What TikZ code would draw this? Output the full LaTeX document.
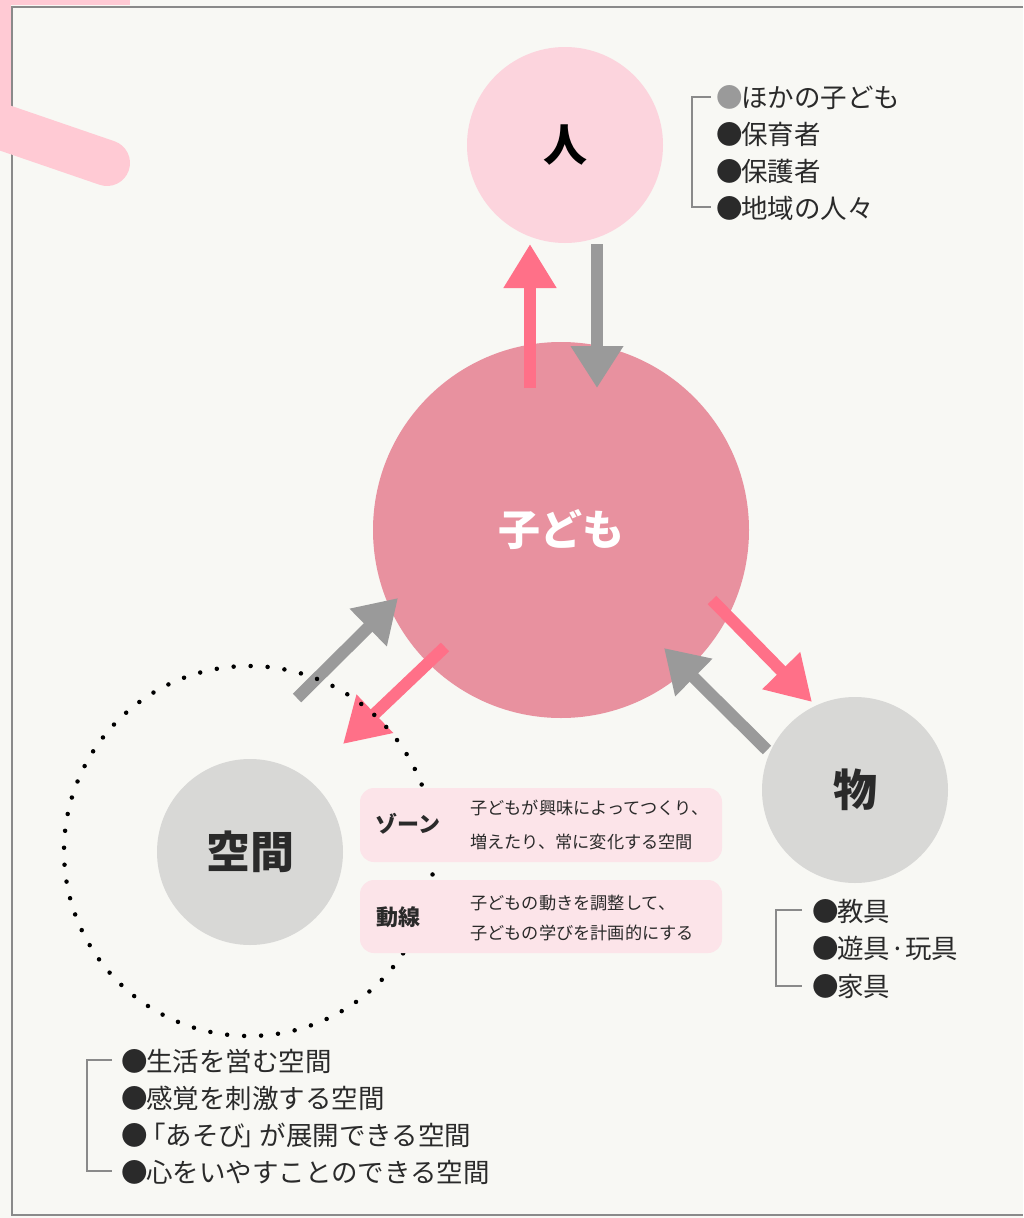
\documentclass[tikz,border=0pt]{standalone}
\usepackage{fontspec}
\newfontfamily\jp{Noto Sans CJK JP}
\usetikzlibrary{arrows.meta,calc}
\definecolor{bgc}{HTML}{F8F8F4}
\definecolor{deco}{HTML}{FFCAD4}
\definecolor{hitoc}{HTML}{FCD4DD}
\definecolor{childc}{HTML}{E8919F}
\definecolor{grayc}{HTML}{D8D8D6}
\definecolor{parrowc}{HTML}{FF7088}
\definecolor{garrowc}{HTML}{9A9A9A}
\definecolor{boxc}{HTML}{FCE4E9}
\definecolor{txt}{HTML}{2A2A2A}
\definecolor{framec}{HTML}{8A8A8A}
\newcommand{\blt}[1][txt]{\makebox[25pt][l]{\textcolor{#1}{●}}}
\begin{document}
\begin{tikzpicture}[x=1pt,y=-1pt,
  bigc/.style={circle,inner sep=0pt},
  bigtext/.style={font=\jp\bfseries\fontsize{44pt}{48pt}\selectfont},
  parrow/.style={draw=parrowc,line width=12pt,line cap=butt,-{Triangle[length=44pt,width=50pt]}},
  garrow/.style={draw=garrowc,line width=12pt,line cap=butt,-{Triangle[length=42pt,width=50pt]}},
  item/.style={anchor=west,inner sep=0pt,text=txt,font=\jp\fontsize{26.5pt}{30pt}\selectfont},
  bracket/.style={draw=framec,line width=1.6pt},
  zonebox/.style={fill=boxc,rounded corners=14pt,draw=none},
  zlabel/.style={text=txt,font=\jp\bfseries\fontsize{22pt}{26pt}\selectfont},
  ztext/.style={anchor=west,inner sep=0pt,text=txt,font=\jp\fontsize{17.2pt}{20pt}\selectfont}
]
\useasboundingbox (0,0) rectangle (1023,1218);
\fill[bgc] (0,0) rectangle (1023,1218);
% frame
\draw[framec,line width=1.5pt] (1023,7) -- (12,7) -- (12,1215) -- (1023,1215);
% pink decoration
\fill[deco] (0,0) rectangle (130,5);
\fill[deco] (0,0) rectangle (11,140);
\draw[deco,line width=46pt,line cap=round] (-30,116) -- (107,163);

% circles
\node[bigc,fill=hitoc,minimum size=196pt] (hito) at (565,145) {};
\node[bigc,fill=childc,minimum size=376pt] (child) at (561,530) {};
\node[bigc,fill=grayc,minimum size=186pt] (mono) at (855,790) {};
\node[bigc,fill=grayc,minimum size=186pt] (kukan) at (250,852) {};
\node[bigtext,text=black] at (hito) {人};
\node[text=white,font=\jp\bfseries\fontsize{42pt}{46pt}\selectfont] at (child) {子ども};
\node[bigtext,text=txt] at (mono) {物};
\node[bigtext,text=txt] at (kukan) {空間};

% arrow end points
\coordinate (u1) at (530,388); \coordinate (u2) at (530,244);
\coordinate (d1) at (597,244); \coordinate (d2) at (597,388);
\coordinate (m1) at (712,600); \coordinate (m2) at (812,702);
\coordinate (n1) at (767,750); \coordinate (n2) at (664,648);
\coordinate (k1) at (445,647); \coordinate (k2) at (343,744);
\coordinate (g1) at (297,698); \coordinate (g2) at (398,598);

\draw[parrow] (u1) -- (u2);
\draw[garrow] (d1) -- (d2);
\draw[parrow] (m1) -- (m2);
\draw[garrow] (n1) -- (n2);
\draw[parrow] (k1) -- (k2);
\draw[garrow] (g1) -- (g2);

% dotted circle
\draw[black,line width=4.5pt,line cap=round,dash pattern=on 0pt off 17pt] (249,851) circle[radius=185pt];

% zone boxes
\fill[zonebox] (360,788) rectangle (722,862);
\fill[zonebox] (360,880) rectangle (722,953);
\node[zlabel] (zone) at (408,824) {ゾーン};
\node[zlabel] (doh) at (398,917) {動線};
\node[ztext] (z1) at (470,808) {子どもが興味によってつくり、};
\node[ztext] (z2) at (470,842) {増えたり、常に変化する空間};
\node[ztext] (z3) at (470,903) {子どもの動きを調整して、};
\node[ztext] (z4) at (470,933) {子どもの学びを計画的にする};

% hito list
\draw[bracket] (711,97) -- (692,97) -- (692,207) -- (711,207);
\node[item] (h1) at (716,98) {\blt[garrowc]ほかの子ども};
\node[item] (h2) at (716,134) {\blt 保育者};
\node[item] (h3) at (716,171) {\blt 保護者};
\node[item] (h4) at (716,208) {\blt 地域の人々};

% mono list
\draw[bracket] (802,910) -- (776,910) -- (776,986) -- (802,986);
\node[item] (m1t) at (812,911) {\blt 教具};
\node[item] (m2t) at (812,948) {\blt 遊具·玩具};
\node[item] (m3t) at (812,986) {\blt 家具};

% kukan list
\draw[bracket] (112,1060) -- (87,1060) -- (87,1171) -- (112,1171);
\node[item] (k1t) at (121,1061) {\blt 生活を営む空間};
\node[item] (k2t) at (121,1098) {\blt 感覚を刺激する空間};
\node[item] (k3t) at (121,1135) {\blt\hspace{-7pt}「あそび\hspace{-5pt}」\hspace{-7pt}が展開できる空間};
\node[item] (k4t) at (121,1172) {\blt 心をいやすことのできる空間};
\end{tikzpicture}
\end{document}
